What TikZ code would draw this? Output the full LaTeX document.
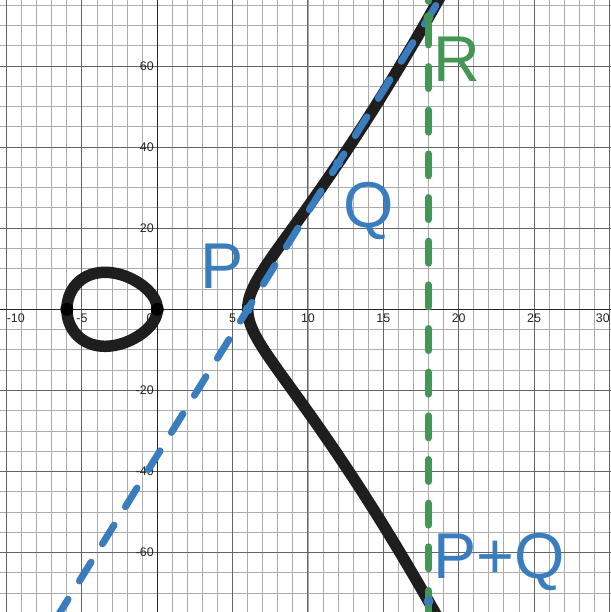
\documentclass[tikz,border=0pt]{standalone}
\usepackage{fontspec}
\setmainfont{Liberation Sans}
\definecolor{myblue}{RGB}{58,125,190}
\definecolor{mygreen}{RGB}{67,150,85}
\definecolor{curvecol}{RGB}{30,30,30}
\definecolor{minorcol}{RGB}{172,172,172}
\definecolor{majorcol}{RGB}{100,100,100}
\begin{document}
\begin{tikzpicture}[x=15.07bp, y=4.055bp,
  minorline/.style={draw=minorcol, line width=0.9bp},
  majorline/.style={draw=majorcol, line width=1bp},
  axisline/.style={draw=black!85, line width=1.3bp},
  ticklbl/.style={inner sep=0pt, font=\fontsize{12.5}{12.5}\selectfont, text=black!85},
  curveline/.style={draw=curvecol, line width=11.5bp, line cap=round, line join=round},
  bluedash/.style={draw=myblue, line width=7bp, line cap=round, dash pattern=on 22bp off 21.66bp},
  greendash/.style={draw=mygreen, line width=7bp, line cap=round, dash pattern=on 22bp off 21.66bp},
  rootdot/.style={circle, fill=black, inner sep=0pt, minimum size=13bp},
  bdot/.style={circle, fill=myblue, inner sep=0pt, minimum size=10bp},
  gdot/.style={circle, fill=mygreen, inner sep=0pt, minimum size=10bp},
  biglbl/.style={inner sep=0pt, anchor=base west, font=\fontsize{65}{65}\selectfont}]
\useasboundingbox (-10.438,-74.65) rectangle (30.106,76.28);
\fill[white] (-10.438,-74.65) rectangle (30.106,76.28);
\clip (-10.438,-74.65) rectangle (30.106,76.28);
% grid
\foreach \i in {-10,...,30} \draw[minorline] (\i,-74.65) -- (\i,76.28);
\foreach \j in {-70,-65,...,75} \draw[minorline] (-10.438,\j) -- (30.106,\j);
\foreach \i in {-10,-5,...,30} \draw[majorline] (\i,-74.65) -- (\i,76.28);
\foreach \j in {-60,-40,...,60} \draw[majorline] (-10.438,\j) -- (30.106,\j);
% axes
\draw[axisline] (-10.438,0) -- (30.106,0);
\draw[axisline] (0,-74.65) -- (0,76.28);
% tick labels
\node[ticklbl, anchor=north west, yshift=-4.2bp] (xlm10) at (-10,0) {-10};
\foreach \i in {-5,5,10,15,20,25}
  \node[ticklbl, anchor=north, yshift=-4.2bp] (xl\i) at (\i,0) {\i};
\node[ticklbl, anchor=north east, yshift=-4.2bp, xshift=-3.5bp] (xl0) at (0,0) {0};
\node[ticklbl, anchor=north east, yshift=-4.2bp, xshift=-1bp] (xl30) at (30.106,0) {30};
\foreach \j in {-60,-40,-20,20,40,60}
  \node[ticklbl, anchor=east, xshift=-3.3bp] (yl\j) at (0,\j) {\j};
% curve
\draw[curveline] plot[domain=-3.7:3.7, samples=300] ({6+\x*\x},{\x*sqrt((6+\x*\x)*(12+\x*\x))});
\draw[curveline] plot[domain=0:360, samples=200] ({-3+3*cos(\x)},{3*sin(\x)*sqrt(9-3*cos(\x))}) -- cycle;
\node[rootdot] (r1) at (-6,0) {};
\node[rootdot] (r2) at (0,0) {};
% secant line
\coordinate (b1) at (-6.69,-76.14);
\coordinate (b2) at (19,78);
\draw[bluedash] (b1) -- (b2);
% vertical line
\coordinate (g1) at (18,81.4);
\coordinate (g2) at (18,-80);
\draw[greendash] (g1) -- (g2);
% points
\node[bdot] (pP) at (6,0) {};
\node[bdot] (pQ) at (12,36) {};
\node[bdot] (pPQ) at (18,-72) {};
\node[gdot] (pR) at (18,72) {};
% labels
\node[biglbl, text=myblue] (lP) at (2.83,5.18) {P};
\node[biglbl, text=myblue] (lQ) at (12.36,20.17) {Q};
\node[biglbl, text=mygreen] (lR) at (18.31,56.13) {R};
\node[biglbl, text=myblue] (lPQ) at (18.31,-66.36) {P+Q};
\end{tikzpicture}
\end{document}
